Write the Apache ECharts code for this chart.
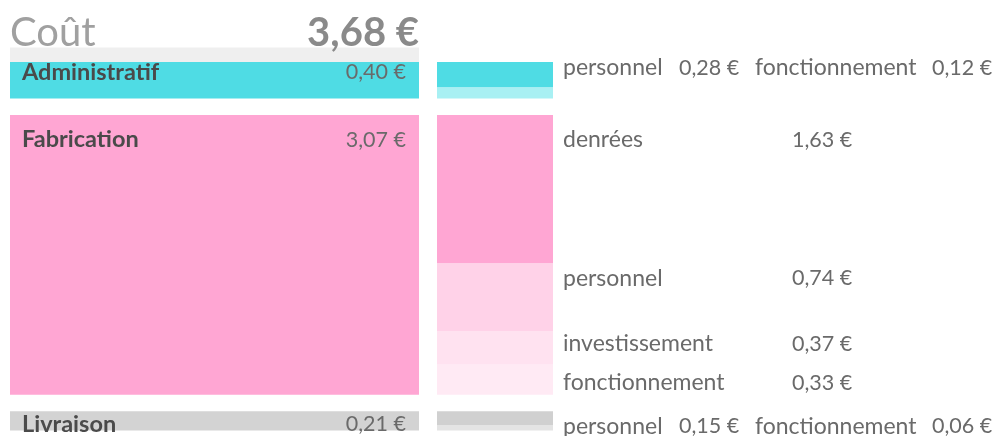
<!DOCTYPE html>
<html>
<head>
<meta charset="utf-8">
<script src="https://cdn.jsdelivr.net/npm/echarts@6/dist/echarts.min.js"></script>
<style>
html,body{margin:0;padding:0;background:#fff;}
#chart{width:994px;height:436px;}
</style>
</head>
<body>
<div id="chart"></div>
<script>
// ---- data ----
const titleText = 'Coût';
const groups = ['Administratif', 'Fabrication', 'Livraison'];
const groupValues = [0.40, 3.07, 0.21];
const subNames = [
  ['personnel', 'fonctionnement'],
  ['denrées', 'personnel', 'investissement', 'fonctionnement'],
  ['personnel', 'fonctionnement']
];
const subValues = [
  [0.28, 0.12],
  [1.63, 0.74, 0.37, 0.33],
  [0.15, 0.06]
];

// ---- style ----
const FONT = 'Lato, "Open Sans", sans-serif';
const PX_PER = 91.2;      // pixels per euro
const GAP = 16.4;         // gap between groups (px)
const TOP = 62;
const LEFT_X0 = 10, LEFT_X1 = 419;
const RIGHT_X0 = 437, RIGHT_X1 = 553;
const groupColors = ['#4fdce4', '#ffa6d3', '#d3d3d3'];
const subColors = [
  ['#4fdce4', '#a8f0f3'],
  ['#ffa6d3', '#ffd2e8', '#ffe2f0', '#ffeaf4'],
  ['#d0d0d0', '#e4e4e4']
];
const NAME_SIZE = 23, VALUE_SIZE = 21.5, BOLD_SIZE = 23.5;
const leftLabelDy = [10, 25, 13];
const inlineGroup = [true, false, true];
const inlineDy = [6, 0, 15];
const inlineX = [563, 679, 755, 932];
const stackedDy = [25, 15, 13, 18];
const stackedNameX = 563, stackedValX = 792;

const fmt = v => v.toFixed(2).replace('.', ',') + ' €';
const total = groupValues.reduce((a, b) => a + b, 0);

// build custom-series data: [group, start, end, kind(0 main,1 sub), subIndex]
const items = [];
let cum = 0;
groups.forEach((g, gi) => {
  items.push([gi, cum, cum + groupValues[gi], 0, -1]);
  let c = cum;
  subValues[gi].forEach((v, si) => {
    items.push([gi, c, c + v, 1, si]);
    c += v;
  });
  cum += groupValues[gi];
});

const chart = echarts.init(document.getElementById('chart'));

function txt(x, y, text, opts) {
  return {
    type: 'text', x: x, y: y, silent: true,
    style: Object.assign({
      text: text, fill: '#6a6a6a', fontSize: NAME_SIZE, fontFamily: FONT,
      align: 'left', verticalAlign: 'middle'
    }, opts || {})
  };
}

function renderItem(params, api) {
  const gi = api.value(0), s = api.value(1), e = api.value(2);
  const kind = api.value(3), si = api.value(4);
  const y0 = api.coord([0, s])[1] + gi * GAP;
  const y1 = api.coord([0, e])[1] + gi * GAP;
  const children = [];
  if (kind === 0) {
    children.push({
      type: 'rect',
      shape: { x: LEFT_X0, y: y0, width: LEFT_X1 - LEFT_X0, height: y1 - y0 },
      style: { fill: groupColors[gi] }
    });
    const ly = y0 + leftLabelDy[gi];
    children.push(txt(22, ly, groups[gi], { fill: '#4a4a4a', fontWeight: 'bold', fontSize: BOLD_SIZE }));
    children.push(txt(406, ly, fmt(groupValues[gi]), { fill: '#6a6a6a', align: 'right', fontSize: VALUE_SIZE }));
  } else {
    children.push({
      type: 'rect',
      shape: { x: RIGHT_X0, y: y0, width: RIGHT_X1 - RIGHT_X0, height: y1 - y0 },
      style: { fill: subColors[gi][si] }
    });
    if (inlineGroup[gi]) {
      if (si === 0) {
        const ly = y0 + inlineDy[gi];
        let k = 0;
        subNames[gi].forEach((n, j) => {
          children.push(txt(inlineX[k++], ly, n));
          children.push(txt(inlineX[k++], ly, fmt(subValues[gi][j]), { fontSize: VALUE_SIZE }));
        });
      }
    } else {
      const ly = y0 + stackedDy[si];
      children.push(txt(stackedNameX, ly, subNames[gi][si]));
      children.push(txt(stackedValX, ly, fmt(subValues[gi][si]), { fontSize: VALUE_SIZE }));
    }
  }
  return { type: 'group', children: children };
}

chart.setOption({
  animation: false,
  grid: { left: 0, top: TOP, width: 994, height: total * PX_PER },
  xAxis: { type: 'value', min: 0, max: 994, show: false },
  yAxis: { type: 'value', min: 0, max: total, inverse: true, show: false },
  graphic: [
    { type: 'rect', shape: { x: LEFT_X0, y: 47.5, width: LEFT_X1 - LEFT_X0, height: 14.5 }, style: { fill: '#efefef' }, z: -1 },
    { type: 'text', x: 10, y: 33, style: { text: titleText, fill: '#a0a0a0', fontSize: 40, fontFamily: FONT, verticalAlign: 'middle', align: 'left' } },
    { type: 'text', x: 419, y: 33, style: { text: fmt(total), fill: '#8a8a8a', fontSize: 40, fontWeight: 'bold', fontFamily: FONT, verticalAlign: 'middle', align: 'right' } }
  ],
  series: [{
    type: 'custom',
    clip: false,
    renderItem: renderItem,
    encode: { y: [1, 2] },
    data: items
  }]
});
</script>
</body>
</html>
